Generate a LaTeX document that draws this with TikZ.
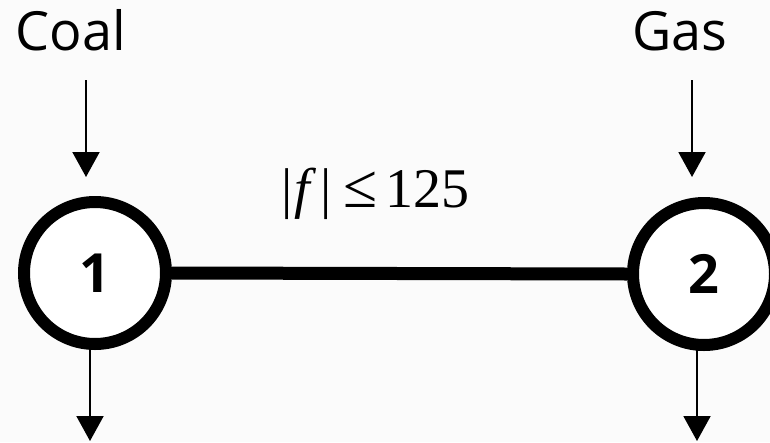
\documentclass[tikz,border=0pt]{standalone}
\usepackage{fontspec}
\setmainfont{Open Sans}
\newfontfamily\labserif{Liberation Serif}
\usetikzlibrary{arrows.meta}
\tikzset{
  bus/.style={draw=black, fill=white, circle, line width=12pt, minimum size=142pt, inner sep=0pt, font=\fontsize{54}{60}\selectfont\bfseries},
  line/.style={draw=black, line width=13pt},
  flow/.style={draw=black, line width=2pt, -{Triangle[width=27pt,length=25pt]}},
  fuel/.style={anchor=base, font=\fontsize{54}{60}\selectfont},
}
\begin{document}
\begin{tikzpicture}[x=1pt,y=-1pt]
\fill[white!98.5!black] (0,0) rectangle (770,442);
\useasboundingbox (0,0) rectangle (770,442);
\node[bus] (n1) at (95,273) {1};
\node[bus] (n2) at (704,274) {2};
\draw[line] (n1.east) -- (n2.west);
\node[fuel] (coal) at (71,50) {Coal};
\node[fuel] (gas) at (680,50) {Gas};
\node[anchor=base west, inner sep=0pt, font=\fontsize{56}{60}\selectfont\labserif] (lim) at (281,207) {|\kern2pt\textit{f}\kern4pt|\kern12pt{\fontsize{62}{60}\selectfont ≤}\kern8pt125};
\coordinate (a1s) at (86,80);
\coordinate (a1e) at (86,177);
\coordinate (a2s) at (692,80);
\coordinate (a2e) at (692,177);
\coordinate (b1s) at (90,346);
\coordinate (b1e) at (90,441);
\coordinate (b2s) at (697,348);
\coordinate (b2e) at (697,441);
\draw[flow] (a1s) -- (a1e);
\draw[flow] (a2s) -- (a2e);
\draw[flow] (b1s) -- (b1e);
\draw[flow] (b2s) -- (b2e);
\end{tikzpicture}
\end{document}
